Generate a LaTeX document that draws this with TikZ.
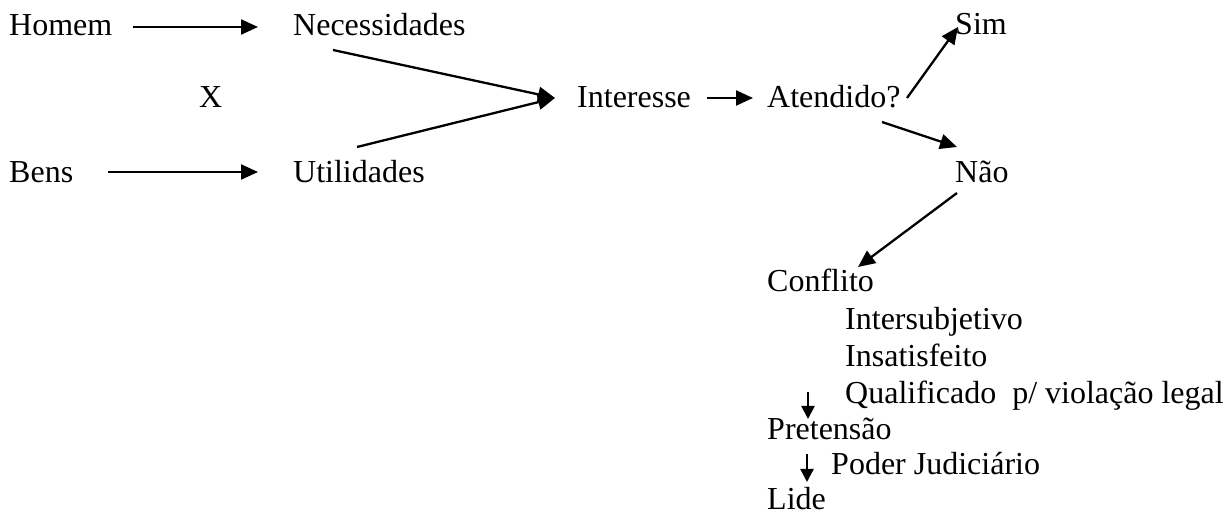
\documentclass[tikz,border=0pt]{standalone}
\usepackage{fontspec}
\setmainfont{Liberation Serif}
\usetikzlibrary{arrows.meta,calc}
\begin{document}
\begin{tikzpicture}[x=1pt,y=1pt,
  lbl/.style={anchor=base west,inner sep=0pt,font=\fontsize{32}{38}\selectfont},
  arr/.style={line width=2.3pt,-{Triangle[length=17pt,width=15pt]}},
  sarr/.style={line width=2.3pt,-{Triangle[length=13pt,width=13pt]}}]
\useasboundingbox[fill=white] (0,0) rectangle (1230,518);
\node[lbl] (hom) at (9,482) {Homem};
\node[lbl] (nec) at (293,482) {Necessidades};
\node[lbl] (x) at (199,410) {X};
\node[lbl] (int) at (577,410) {Interesse};
\node[lbl] (ate) at (767,410) {Atendido?};
\node[lbl] (sim) at (955,483) {Sim};
\node[lbl] (nao) at (955,335) {Não};
\node[lbl] (bens) at (9,335) {Bens};
\node[lbl] (uti) at (293,335) {Utilidades};
\node[lbl] (con) at (767,226) {Conflito};
\node[lbl] (is1) at (845,188) {Intersubjetivo};
\node[lbl] (is2) at (845,151) {Insatisfeito};
\node[lbl] (qua) at (845,114) {Qualificado\ \ p/ violação legal};
\node[lbl] (pre) at (767,78) {Pretensão};
\node[lbl] (pod) at (831,43) {Poder Judiciário};
\node[lbl] (lid) at (767,8) {Lide};

\draw[arr] ($(hom.base east)+(21,9)$) -- ($(nec.base west)+(-35,9)$);
\draw[arr] ($(bens.base west)+(99,11)$) -- ($(uti.base west)+(-35,11)$);
\draw[arr] ($(nec.base west)+(40,-14)$) -- ($(int.base west)+(-22,10)$);
\draw[arr] ($(uti.base west)+(64,36)$) -- ($(int.base west)+(-22,10)$);
\draw[arr] ($(int.base west)+(130,10)$) -- ($(ate.base west)+(-14,10)$);
\draw[arr] ($(ate.base west)+(140,10)$) -- ($(sim.base west)+(3,8)$);
\draw[arr] ($(ate.base west)+(115,-14)$) -- ($(nao.base west)+(2,36)$);
\draw[arr] ($(nao.base west)+(2,-10)$) -- ($(con.base west)+(91,25)$);
\draw[sarr] ($(qua.base west)+(-37,12)$) -- ($(pre.base west)+(41,21)$);
\draw[sarr] ($(pre.base west)+(40,-14)$) -- ($(lid.base west)+(40,28)$);
\end{tikzpicture}
\end{document}
